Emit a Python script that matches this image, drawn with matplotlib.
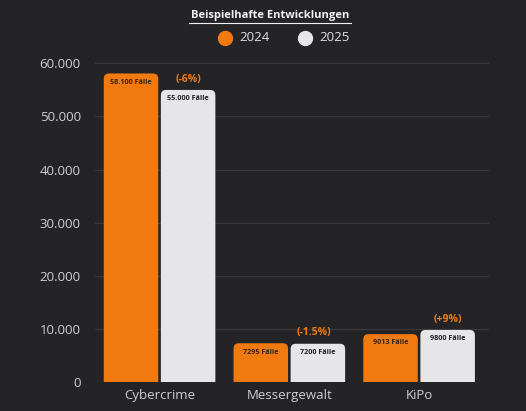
import matplotlib
matplotlib.use("Agg")
import matplotlib.pyplot as plt
from matplotlib.patches import FancyBboxPatch
import numpy as np

plt.rcParams['font.family'] = ['Open Sans', 'DejaVu Sans']

categories = ["Cybercrime", "Messergewalt", "KiPo"]
values_2024 = [58100, 7295, 9013]
values_2025 = [55000, 7200, 9800]
labels_2024 = ["58.100 Fälle", "7295 Fälle", "9013 Fälle"]
labels_2025 = ["55.000 Fälle", "7200 Fälle", "9800 Fälle"]
changes = ["(-6%)", "(-1.5%)", "(+9%)"]
yticks = [0, 10000, 20000, 30000, 40000, 50000, 60000]
ytick_labels = ["0", "10.000", "20.000", "30.000", "40.000", "50.000", "60.000"]

orange = "#F07A10"
white = "#E6E6E8"
bg = "#242427"

fig = plt.figure(figsize=(5.26, 4.11), dpi=100, facecolor=bg)
ax = fig.add_axes([0.18, 0.0706, 0.75, 0.801], facecolor=bg)

x = np.arange(len(categories))
w = 0.42
b1 = ax.bar(x - w / 2 - 0.01, values_2024, w, color=orange)
b2 = ax.bar(x + w / 2 + 0.01, values_2025, w, color=white)

ax.set_xlim(-0.5, 2.54)
ax.set_ylim(0, 62000)

# replace rectangles by rounded-top patches
aspect = (10000 / 52.8) * 130
for bars, col in ((b1, orange), (b2, white)):
    for r in bars:
        r.set_visible(False)
        px, py = r.get_x(), r.get_y()
        pw, ph = r.get_width(), r.get_height()
        p = FancyBboxPatch((px, py - 3000), pw, ph + 3000,
                           boxstyle="round,pad=0,rounding_size=0.04",
                           mutation_aspect=aspect, facecolor=col,
                           edgecolor='none', zorder=3)
        p.set_clip_path(ax.patch)
        ax.add_patch(p)

for i in range(len(categories)):
    r1, r2 = b1[i], b2[i]
    ax.text(r1.get_x() + r1.get_width() / 2, values_2024[i] - 1000, labels_2024[i],
            ha='center', va='top', fontsize=5.2, fontweight='bold',
            color='#3a2410', zorder=4)
    ax.text(r2.get_x() + r2.get_width() / 2, values_2025[i] - 1000, labels_2025[i],
            ha='center', va='top', fontsize=5.2, fontweight='bold',
            color='#222222', zorder=4)
    cx = r2.get_x() + r2.get_width() / 2 - (0.03 if i == 1 else 0.0)
    ax.text(cx, values_2025[i] + 1000, changes[i], ha='center', va='bottom',
            fontsize=7.5, fontweight='bold', color=orange, zorder=4)

ax.set_yticks(yticks)
ax.set_yticklabels(ytick_labels)
ax.set_xticks(x)
ax.set_xticklabels(categories)
ax.tick_params(axis='both', length=0, colors='#cfcfd2', labelsize=9.5)
ax.tick_params(axis='y', pad=10)
ax.tick_params(axis='x', pad=5)
ax.yaxis.grid(True, color='#3a3a3e', linewidth=0.8)
ax.set_axisbelow(True)
for s in ax.spines.values():
    s.set_visible(False)

fig.text(0.513, 0.963, "Beispielhafte Entwicklungen", ha='center', va='center',
         fontsize=8, fontweight='bold', color='#f2f2f2')
fig.add_artist(plt.Line2D([0.36, 0.667], [0.945, 0.945], color='#f2f2f2', lw=0.8))

# legend
fig.add_artist(plt.Line2D([0.428], [0.908], marker='o', markersize=10,
                          color=orange, linestyle='none'))
fig.text(0.455, 0.908, "2024", ha='left', va='center', fontsize=9.5, color='#e0e0e0')
fig.add_artist(plt.Line2D([0.58], [0.908], marker='o', markersize=10,
                          color=white, linestyle='none'))
fig.text(0.607, 0.908, "2025", ha='left', va='center', fontsize=9.5, color='#e0e0e0')

fig.savefig("out.png", dpi=100, facecolor=bg)
